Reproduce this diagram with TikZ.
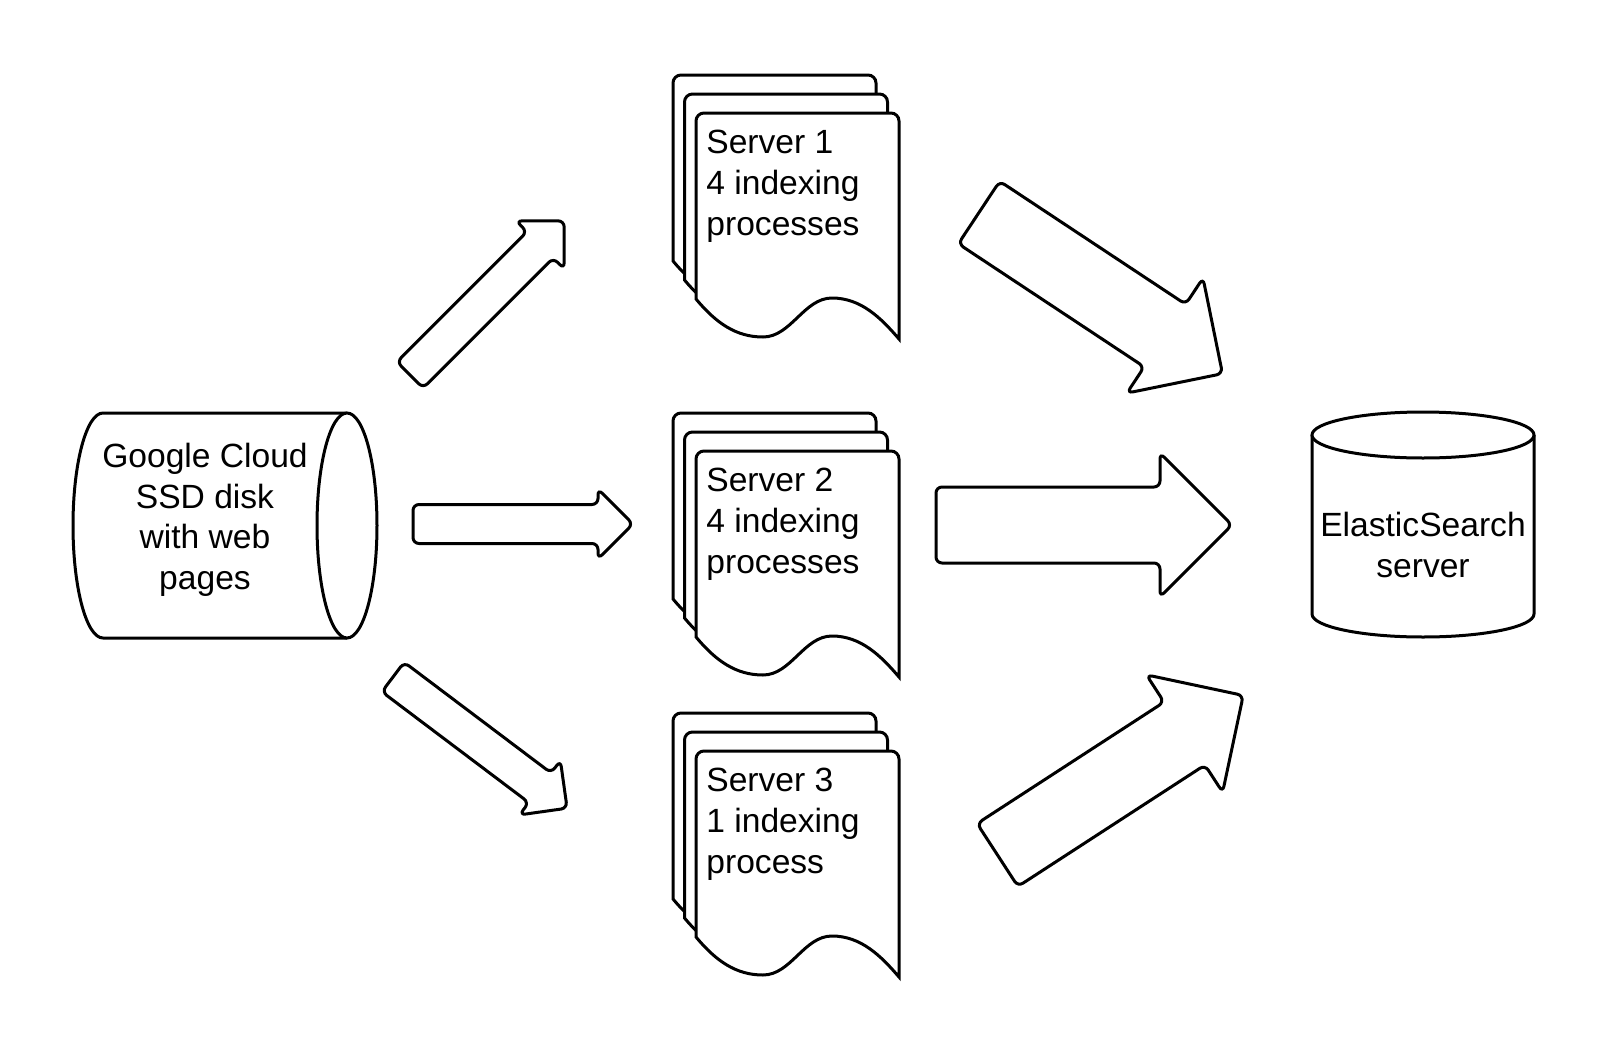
\documentclass[tikz,border=0pt]{standalone}
\usepackage{fontspec}
\setmainfont{Liberation Sans}

\tikzset{
  shapeline/.style={draw=black, line width=1.5pt, fill=white},
  labeltext/.style={font=\fontsize{16.8}{20.3}\selectfont, inner sep=0pt},
}

% one sheet of a server stack, top left corner at (#1,#2)
\newcommand{\docpage}[2]{%
  \draw[shapeline] (#1,#2+186) -- (#1,#2+8) arc[start angle=180, end angle=270, radius=8]
    -- (#1+195,#2) arc[start angle=270, end angle=360, radius=8] -- (#1+203,#2+226)
    .. controls (#1+185,#2+205) and (#1+165,#2+185) .. (#1+136,#2+185)
    .. controls (#1+108,#2+185) and (#1+95,#2+224) .. (#1+67,#2+224)
    .. controls (#1+40,#2+224) and (#1+20,#2+210) .. cycle;}

% block arrow: tail, angle, length, half shaft, half head
\newcommand{\fatarrow}[5]{%
  \begin{scope}[shift={(#1)}, rotate=#2]
    \draw[shapeline, rounded corners=3pt] (0,-#4) -- (#3-#5,-#4) -- (#3-#5,-#5) -- (#3,0)
      -- (#3-#5,#5) -- (#3-#5,#4) -- (0,#4) -- cycle;
  \end{scope}}

\begin{document}
\begin{tikzpicture}[x=0.5pt, y=-0.5pt]
  \useasboundingbox (0,0) rectangle (1613,1050);

  % disk with the web pages
  \draw[shapeline] (347,413) -- (103,413) arc[start angle=270, end angle=90, x radius=30, y radius=112.5] -- (347,638);
  \draw[shapeline] (347,525.5) ellipse [x radius=30, y radius=112.5];
  \node (disk) [labeltext, align=center] at (205,520) {Google Cloud\\SSD disk\\with web\\pages};

  % server stacks
  \foreach \dy in {0,338,638} {
    \docpage{673}{75+\dy}
    \docpage{684.5}{94+\dy}
    \docpage{696}{113+\dy}
  }
  \node (srv1) [labeltext, align=left, anchor=north west] at (706,130) {Server 1\\4 indexing\\processes};
  \node (srv2) [labeltext, align=left, anchor=north west] at (706,468) {Server 2\\4 indexing\\processes};
  \node (srv3) [labeltext, align=left, anchor=north west] at (706,768) {Server 3\\1 indexing\\process};

  % elasticsearch server
  \draw[shapeline] (1312,435) -- (1312,614) arc[start angle=180, end angle=0, x radius=111, y radius=23] -- (1534,435);
  \draw[shapeline] (1423,435) ellipse [x radius=111, y radius=23];
  \node (es) [labeltext, align=center] at (1423,545) {ElasticSearch\\server};

  % Arrows
  \coordinate (in1) at (410,375);
  \coordinate (in2) at (413,524);
  \coordinate (in3) at (393,677);
  \coordinate (out1) at (979,212.5);
  \coordinate (out2) at (936,525);
  \coordinate (out3) at (997.5,855);
  \fatarrow{in1}{45}{218}{18.5}{34}
  \fatarrow{in2}{0}{220}{19.5}{35}
  \fatarrow{in3}{-37}{218}{18.5}{34}
  \fatarrow{out1}{-33.5}{292}{37.5}{69}
  \fatarrow{out2}{0}{296}{38}{72}
  \fatarrow{out3}{33}{293}{37.5}{70}

\end{tikzpicture}
\end{document}
